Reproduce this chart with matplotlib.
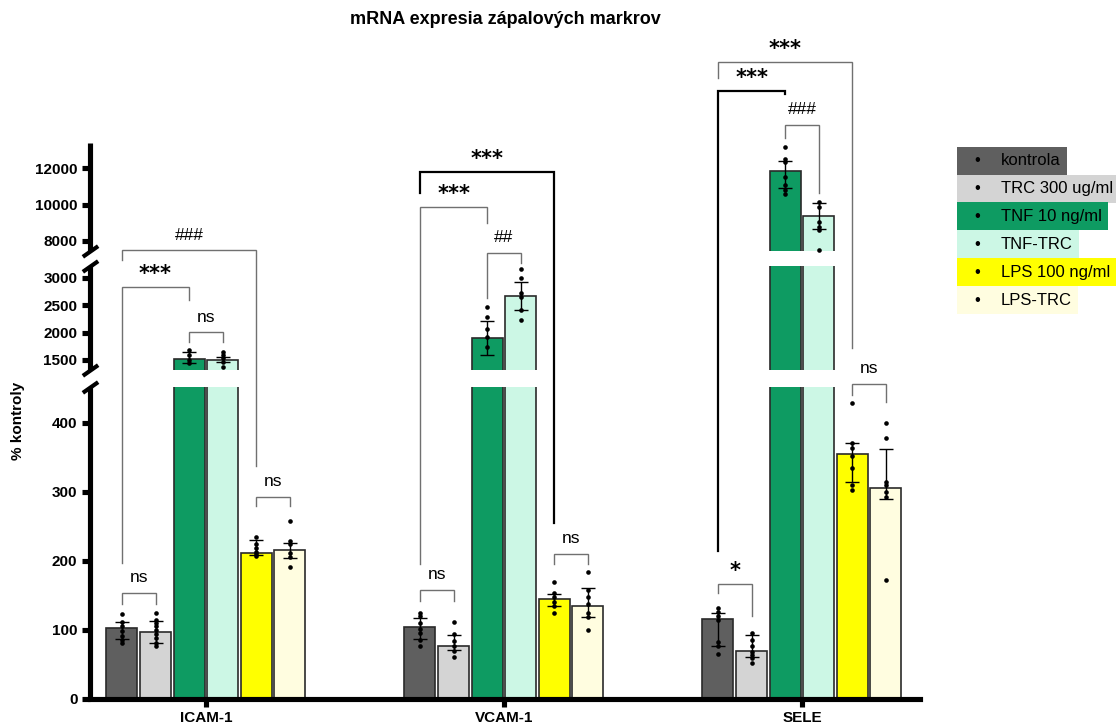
import matplotlib.pyplot as plt
import numpy as np
from matplotlib.patches import Rectangle
from matplotlib.ticker import NullLocator

plt.rcParams['font.family'] = ['Liberation Sans', 'DejaVu Sans']

genes = ['ICAM-1', 'VCAM-1', 'SELE']
groups = ['kontrola', 'TRC 300 ug/ml', 'TNF 10 ng/ml', 'TNF-TRC', 'LPS 100 ng/ml', 'LPS-TRC']
colors = ['#5f5f5f', '#d4d4d4', '#0e9b62', '#ccf7e5', '#ffff00', '#fffde0']

# bar heights (% kontroly), one row per gene, one column per group
means = [
    [103, 97, 1513, 1500, 212, 216],
    [104, 76, 1908, 2675, 144, 135],
    [116, 69.5, 11852, 9370, 355, 306],
]
# ends of the error bars
cap_lo = [
    [87, 81.5, 1450, 1470, 208, 204],
    [87, 71, 1598, 2414, 135, 119],
    [76, 61, 10888, 8640, 314, 290],
]
cap_hi = [
    [112, 113, 1640, 1560, 230, 226],
    [117, 93, 2218, 2920, 152, 160],
    [124, 92, 12400, 10100, 371, 362],
]
# single replicates
points = [
    [[123, 112, 106, 98, 91, 86, 81],
     [125, 115, 110, 105, 100, 94, 88, 81, 76],
     [1683, 1590, 1500, 1440],
     [1650, 1590, 1530, 1470, 1380],
     [234, 224, 218, 213, 210, 207],
     [258, 228, 224, 211, 206, 191]],
    [[125, 120, 110, 102, 95, 86, 76],
     [111, 94, 84, 77, 70, 61],
     [2463, 2280, 2061, 1915, 1743],
     [3164, 3005, 2719, 2657, 2414, 2231],
     [169, 153, 148, 141, 134, 125],
     [184, 158, 148, 138, 124, 119, 100]],
    [[132, 126, 120, 114, 83, 76, 65],
     [96, 86, 76, 68, 64, 59, 52],
     [13167, 12477, 12345, 11523, 11068, 10795, 10575],
     [10155, 9880, 9058, 8784, 8603, 7507],
     [428, 371, 363, 352, 335, 310, 303],
     [399, 377, 314, 310, 300, 293, 172]],
]

# significance brackets: gene, bar i, bar j, top, left end, right end, label, dark line
brackets = [
    (0, 0, 4, 7490, 4912, 337, '###', False),
    (0, 0, 2, 2840, 197, 2597, '***', False),
    (0, 2, 3, 2006, 1824, 1824, 'ns', False),
    (0, 0, 1, 153, 137.5, 137.5, 'ns', False),
    (0, 4, 5, 293, 279, 279, 'ns', False),
    (1, 0, 4, 11797, 10614, 254, '***', True),
    (1, 0, 2, 9879, 196, 9003, '***', False),
    (1, 2, 3, 6972, 2628, 4150, '##', False),
    (1, 0, 1, 158, 142, 142, 'ns', False),
    (1, 4, 5, 210, 195, 195, 'ns', False),
    (2, 0, 4, 17825, 16948, 1714, '***', False),
    (2, 0, 2, 16236, 214.6, 16038, '***', True),
    (2, 2, 3, 14356, 13660, 10614, '###', False),
    (2, 0, 1, 167, 153, 120.5, '*', False),
    (2, 4, 5, 604, 440, 430, 'ns', False),
]

yticks = [0, 100, 200, 300, 400, 1500, 2000, 2500, 3000, 8000, 10000, 12000]

# broken y axis: data break points -> screen units
brk_d = np.array([0, 451.5, 1317, 3218, 7452, 13370])
brk_v = np.array([0, 312, 329, 433, 448, 556])
slope_lo = brk_v[1] / brk_d[1]
slope_hi = (brk_v[-1] - brk_v[-2]) / (brk_d[-1] - brk_d[-2])


def fwd(y):
    y = np.asarray(y, dtype=float)
    v = np.interp(y, brk_d, brk_v)
    v = np.where(y < 0, y * slope_lo, v)
    v = np.where(y > brk_d[-1], brk_v[-1] + (y - brk_d[-1]) * slope_hi, v)
    return v


def inv(v):
    v = np.asarray(v, dtype=float)
    y = np.interp(v, brk_v, brk_d)
    y = np.where(v < 0, v / slope_lo, y)
    y = np.where(v > brk_v[-1], brk_d[-1] + (v - brk_v[-1]) / slope_hi, y)
    return y


W, H = 1116, 727
fig = plt.figure(figsize=(W / 100, H / 100), dpi=100)
ax = fig.add_axes([90 / W, 1 - 699 / H, 830 / W, 556 / H])
ax.set_yscale('function', functions=(fwd, inv))
ax.set_ylim(0, 13370)
ax.set_xlim(-0.389, 2.396)

pitch = 33.6 / 298
width = 31 / 298
xc = np.arange(len(genes))

def xpos(g, k):
    return g + (k - 2.5) * pitch

for k in range(len(groups)):
    x = xc + (k - 2.5) * pitch
    h = np.array([means[g][k] for g in range(3)])
    lo = h - np.array([cap_lo[g][k] for g in range(3)])
    hi = np.array([cap_hi[g][k] for g in range(3)]) - h
    ax.bar(x, h, width, color=colors[k], edgecolor='#2a2a2a', linewidth=1.2, zorder=2)
    ax.errorbar(x, h, yerr=[lo, hi], fmt='none', ecolor='black', elinewidth=1,
                capsize=5, capthick=1, zorder=4)
    for g in range(3):
        pts = points[g][k]
        ax.scatter(np.full(len(pts), x[g]), pts, s=11, color='black', zorder=4, linewidths=0)

# white gaps through the bars
ax.axhspan(brk_d[1], brk_d[2], color='white', zorder=3, lw=0)
ax.axhspan(brk_d[3], brk_d[4], color='white', zorder=3, lw=0)

# brackets
for g, i, j, top, lb, rb, lab, dark in brackets:
    x1, x2 = xpos(g, i), xpos(g, j)
    col = 'black' if dark else '#707070'
    lw = 1.6 if dark else 1.0
    ax.plot([x1, x1, x2, x2], [lb, top, top, rb], color=col, lw=lw,
            clip_on=False, zorder=6, solid_joinstyle='miter')
    if '*' in lab:
        ax.annotate(lab, xy=((x1 + x2) / 2, top), xytext=(0, 9), textcoords='offset points',
                    ha='center', va='center', fontsize=15, family='DejaVu Sans',
                    fontweight='bold', zorder=7, annotation_clip=False)
    else:
        ax.annotate(lab, xy=((x1 + x2) / 2, top), xytext=(0, 11), textcoords='offset points',
                    ha='center', va='center', fontsize=12.5, zorder=7, annotation_clip=False)

# axes styling
for s in ['top', 'right', 'left']:
    ax.spines[s].set_visible(False)
ax.spines['bottom'].set_linewidth(3.7)
ax.spines['bottom'].set_zorder(8)

yt = ax.get_yaxis_transform()
for a, b in [(brk_d[0], brk_d[1]), (brk_d[2], brk_d[3]), (brk_d[4], brk_d[5])]:
    ax.plot([0, 0], [a, b], color='black', lw=3.7, transform=yt, clip_on=False,
            solid_capstyle='butt', zorder=8)
for yb in brk_d[1:5]:
    ax.plot([0], [yb], transform=yt, marker=[(-1, -0.7), (1, 0.7)], ms=11, mew=3,
            color='black', clip_on=False, zorder=8)

ax.set_yticks(yticks)
ax.set_yticklabels([str(t) for t in yticks], fontweight='bold')
ax.yaxis.set_minor_locator(NullLocator())
ax.tick_params(axis='y', width=3.7, length=6, labelsize=11, pad=3)
ax.set_xticks(xc)
ax.set_xticklabels(genes, fontweight='bold')
ax.tick_params(axis='x', width=3.7, length=6, labelsize=11, pad=3)
ax.set_ylabel('% kontroly', fontweight='bold', fontsize=11)
ax.yaxis.set_label_coords(-0.078, 0.5)

fig.text(505 / W, 1 - 20 / H, 'mRNA expresia zápalových markrov', ha='center', va='center',
         fontsize=13, fontweight='bold')

# legend as highlighted list
row_h = 27.9
texts = []
for r, (lab, col) in enumerate(zip(groups, colors)):
    yc = H - (146.7 + (r + 0.5) * row_h)
    fig.text(977 / W, yc / H, '•', ha='center', va='center', fontsize=12, zorder=3)
    t = fig.text(1001 / W, yc / H, lab, ha='left', va='center', fontsize=12, zorder=3)
    texts.append(t)
fig.canvas.draw()
renderer = fig.canvas.get_renderer()
for r, (t, col) in enumerate(zip(texts, colors)):
    ext = t.get_window_extent(renderer)
    right = min(ext.x1 + 6, W)
    yb = H - (146.7 + (r + 1) * row_h)
    fig.add_artist(Rectangle((957 / W, yb / H), (right - 957) / W, row_h / H,
                             transform=fig.transFigure, facecolor=col, edgecolor='none',
                             zorder=1))

fig.savefig('out.png', dpi=100)
